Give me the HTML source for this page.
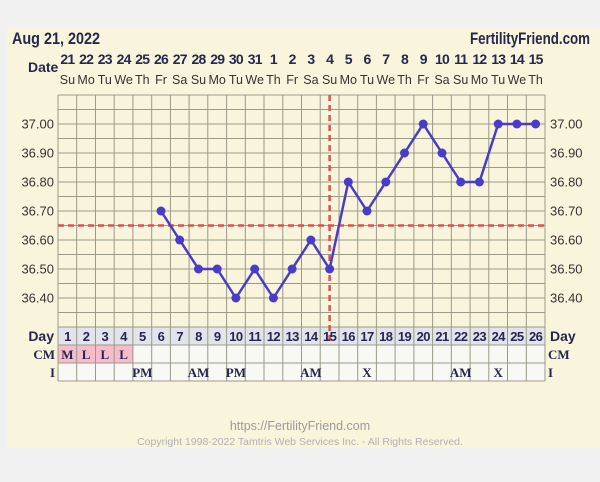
<!DOCTYPE html>
<html><head><meta charset="utf-8"><style>
html,body{margin:0;padding:0;background:#f1f1f1;}
svg{display:block}
text{font-family:"Liberation Sans",sans-serif;}
.dt{font-weight:bold;font-size:14px;fill:#26264e;text-anchor:middle;letter-spacing:-0.8px}
.wd{font-size:12.5px;fill:#333;text-anchor:middle}
.tl{font-size:13px;fill:#333}
.dn{font-weight:bold;font-size:13px;fill:#26264e;text-anchor:middle;letter-spacing:-0.6px}
.sf text{font-family:"Liberation Serif",serif;font-weight:bold;font-size:13px;fill:#26264e;text-anchor:middle}
</style></head><body>
<svg width="600" height="482" viewBox="0 0 600 482" xmlns="http://www.w3.org/2000/svg">
<rect x="0" y="0" width="600" height="482" fill="#f1f1f1"/>
<rect x="7" y="27" width="593" height="421" fill="#f9f5dc"/>
<text x="12" y="44" font-weight="bold" font-size="17" fill="#26264e" textLength="88" lengthAdjust="spacingAndGlyphs">Aug 21, 2022</text>
<text x="590" y="44" font-weight="bold" font-size="17" fill="#26264e" text-anchor="end" textLength="120" lengthAdjust="spacingAndGlyphs">FertilityFriend.com</text>
<text x="28" y="72" font-weight="bold" font-size="14" fill="#26264e">Date</text>
<g class="dt">
<text x="67.4" y="64">21</text><text x="86.1" y="64">22</text><text x="104.8" y="64">23</text><text x="123.6" y="64">24</text><text x="142.3" y="64">25</text><text x="161" y="64">26</text><text x="179.7" y="64">27</text><text x="198.5" y="64">28</text><text x="217.2" y="64">29</text><text x="235.9" y="64">30</text><text x="254.7" y="64">31</text><text x="273.4" y="64">1</text><text x="292.1" y="64">2</text><text x="310.9" y="64">3</text><text x="329.6" y="64">4</text><text x="348.3" y="64">5</text><text x="367" y="64">6</text><text x="385.8" y="64">7</text><text x="404.5" y="64">8</text><text x="423.2" y="64">9</text><text x="442" y="64">10</text><text x="460.7" y="64">11</text><text x="479.4" y="64">12</text><text x="498.2" y="64">13</text><text x="516.9" y="64">14</text><text x="535.6" y="64">15</text>
</g>
<g class="wd">
<text x="67.4" y="84">Su</text><text x="86.1" y="84">Mo</text><text x="104.8" y="84">Tu</text><text x="123.6" y="84">We</text><text x="142.3" y="84">Th</text><text x="161" y="84">Fr</text><text x="179.7" y="84">Sa</text><text x="198.5" y="84">Su</text><text x="217.2" y="84">Mo</text><text x="235.9" y="84">Tu</text><text x="254.7" y="84">We</text><text x="273.4" y="84">Th</text><text x="292.1" y="84">Fr</text><text x="310.9" y="84">Sa</text><text x="329.6" y="84">Su</text><text x="348.3" y="84">Mo</text><text x="367" y="84">Tu</text><text x="385.8" y="84">We</text><text x="404.5" y="84">Th</text><text x="423.2" y="84">Fr</text><text x="442" y="84">Sa</text><text x="460.7" y="84">Su</text><text x="479.4" y="84">Mo</text><text x="498.2" y="84">Tu</text><text x="516.9" y="84">We</text><text x="535.6" y="84">Th</text>
</g>
<rect x="58" y="327" width="487" height="18" fill="#e3e3ec"/>
<rect x="58" y="345" width="487" height="36" fill="#f8f8f4"/>
<rect x="58" y="345" width="74.9" height="18" fill="#f6bccb"/>
<path stroke="#9a9a88" stroke-width="1" fill="none" d="
M58 95V381 M76.7 95V381 M95.5 95V381 M114.2 95V381 M132.9 95V381 M151.7 95V381 M170.4 95V381 M189.1 95V381 M207.8 95V381 M226.6 95V381 M245.3 95V381 M264 95V381 M282.8 95V381 M301.5 95V381 M320.2 95V381 M339 95V381 M357.7 95V381 M376.4 95V381 M395.1 95V381 M413.9 95V381 M432.6 95V381 M451.3 95V381 M470.1 95V381 M488.8 95V381 M507.5 95V381 M526.3 95V381 M545 95V381
M58 95H545 M58 109.5H545 M58 124H545 M58 138.5H545 M58 153H545 M58 167.5H545 M58 182H545 M58 196.5H545 M58 211H545 M58 225.5H545 M58 240H545 M58 254.5H545 M58 269H545 M58 283.5H545 M58 298H545 M58 312.5H545 M58 327H545 M58 345H545 M58 363H545 M58 381H545"/>
<g class="tl">
<text x="54" y="128.5" text-anchor="end">37.00</text><text x="54" y="157.5" text-anchor="end">36.90</text><text x="54" y="186.5" text-anchor="end">36.80</text><text x="54" y="215.5" text-anchor="end">36.70</text><text x="54" y="244.5" text-anchor="end">36.60</text><text x="54" y="273.5" text-anchor="end">36.50</text><text x="54" y="302.5" text-anchor="end">36.40</text>
<text x="550" y="128.5">37.00</text><text x="550" y="157.5">36.90</text><text x="550" y="186.5">36.80</text><text x="550" y="215.5">36.70</text><text x="550" y="244.5">36.60</text><text x="550" y="273.5">36.50</text><text x="550" y="302.5">36.40</text>
</g>
<path d="M58 225.5H545" stroke="#d9534f" stroke-width="2.5" stroke-dasharray="6,4"/>
<path d="M329.6 95V345" stroke="#d9534f" stroke-width="2.5" stroke-dasharray="6,4"/>
<polyline fill="none" stroke="#4a3cc8" stroke-width="2.5" stroke-linejoin="round" points="161,211 179.7,240 198.5,269 217.2,269 235.9,298 254.7,269 273.4,298 292.1,269 310.9,240 329.6,269 348.3,182 367,211 385.8,182 404.5,153 423.2,124 442,153 460.7,182 479.4,182 498.2,124 516.9,124 535.6,124"/>
<g fill="#4a3cc8">
<circle cx="161" cy="211" r="4.5"/><circle cx="179.7" cy="240" r="4.5"/><circle cx="198.5" cy="269" r="4.5"/><circle cx="217.2" cy="269" r="4.5"/><circle cx="235.9" cy="298" r="4.5"/><circle cx="254.7" cy="269" r="4.5"/><circle cx="273.4" cy="298" r="4.5"/><circle cx="292.1" cy="269" r="4.5"/><circle cx="310.9" cy="240" r="4.5"/><circle cx="329.6" cy="269" r="4.5"/><circle cx="348.3" cy="182" r="4.5"/><circle cx="367" cy="211" r="4.5"/><circle cx="385.8" cy="182" r="4.5"/><circle cx="404.5" cy="153" r="4.5"/><circle cx="423.2" cy="124" r="4.5"/><circle cx="442" cy="153" r="4.5"/><circle cx="460.7" cy="182" r="4.5"/><circle cx="479.4" cy="182" r="4.5"/><circle cx="498.2" cy="124" r="4.5"/><circle cx="516.9" cy="124" r="4.5"/><circle cx="535.6" cy="124" r="4.5"/>
</g>
<text x="54" y="341" font-weight="bold" font-size="14" fill="#26264e" text-anchor="end">Day</text>
<text x="550" y="341" font-weight="bold" font-size="14" fill="#26264e">Day</text>
<g class="dn">
<text x="67.4" y="341">1</text><text x="86.1" y="341">2</text><text x="104.8" y="341">3</text><text x="123.6" y="341">4</text><text x="142.3" y="341">5</text><text x="161" y="341">6</text><text x="179.7" y="341">7</text><text x="198.5" y="341">8</text><text x="217.2" y="341">9</text><text x="235.9" y="341">10</text><text x="254.7" y="341">11</text><text x="273.4" y="341">12</text><text x="292.1" y="341">13</text><text x="310.9" y="341">14</text><text x="329.6" y="341">15</text><text x="348.3" y="341">16</text><text x="367" y="341">17</text><text x="385.8" y="341">18</text><text x="404.5" y="341">19</text><text x="423.2" y="341">20</text><text x="442" y="341">21</text><text x="460.7" y="341">22</text><text x="479.4" y="341">23</text><text x="498.2" y="341">24</text><text x="516.9" y="341">25</text><text x="535.6" y="341">26</text>
</g>
<g class="sf">
<text x="55" y="359" style="text-anchor:end">CM</text><text x="548" y="359" style="text-anchor:start">CM</text>
<text x="55" y="377" style="text-anchor:end">I</text><text x="548" y="377" style="text-anchor:start">I</text>
<text x="67.4" y="359">M</text><text x="86.1" y="359">L</text><text x="104.8" y="359">L</text><text x="123.6" y="359">L</text>
<text x="142.3" y="377">PM</text><text x="198.5" y="377">AM</text><text x="235.9" y="377">PM</text><text x="310.9" y="377">AM</text><text x="367" y="377">X</text><text x="460.7" y="377">AM</text><text x="498.2" y="377">X</text>
</g>
<text x="300" y="430" font-size="12.5" fill="#9a9a9a" text-anchor="middle">https://FertilityFriend.com</text>
<text x="300" y="445" font-size="10.5" fill="#b0b0b0" text-anchor="middle">Copyright 1998-2022 Tamtris Web Services Inc. - All Rights Reserved.</text>
</svg>
</body></html>
